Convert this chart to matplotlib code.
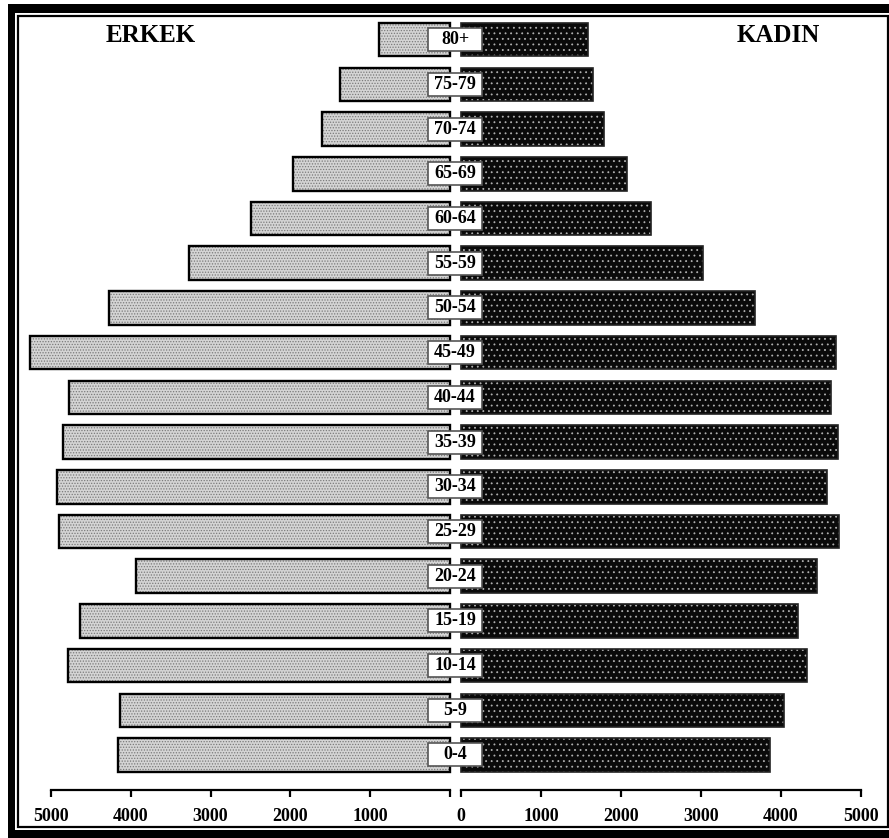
import matplotlib
matplotlib.use("Agg")
import matplotlib.pyplot as plt
from matplotlib.patches import Rectangle
from matplotlib.transforms import blended_transform_factory
import numpy as np

ages = ['0-4', '5-9', '10-14', '15-19', '20-24', '25-29', '30-34', '35-39',
        '40-44', '45-49', '50-54', '55-59', '60-64', '65-69', '70-74', '75-79', '80+']
erkek = [4160, 4140, 4790, 4640, 3930, 4900, 4920, 4850, 4770, 5260,
         4270, 3270, 2500, 1970, 1610, 1380, 890]
kadin = [3860, 4040, 4330, 4210, 4445, 4720, 4580, 4710, 4620, 4685,
         3680, 3030, 2380, 2080, 1785, 1655, 1590]
ticks = [0, 1000, 2000, 3000, 4000, 5000]
left_tick_labels = ['', '1000', '2000', '3000', '4000', '5000']
right_tick_labels = ['0', '1000', '2000', '3000', '4000', '5000']

W, H = 889, 838
plt.rcParams['font.family'] = ['Liberation Serif', 'DejaVu Serif']
plt.rcParams['hatch.linewidth'] = 0.6

fig = plt.figure(figsize=(W / 100, H / 100), dpi=100)
fig.patch.set_facecolor('white')

def fx(px):
    return px / W

def fy(py):
    return 1 - py / H

# double frame
fig.patches.append(Rectangle((fx(8), fy(H + 10)), fx(W + 20 - 8), fy(4) - fy(H + 10),
                             transform=fig.transFigure, facecolor='black', edgecolor='none', zorder=-10))
fig.patches.append(Rectangle((fx(15), fy(830)), fx(W + 20 - 15), fy(13) - fy(830),
                             transform=fig.transFigure, facecolor='white', edgecolor='none', zorder=-9))
fig.patches.append(Rectangle((fx(18), fy(826.5)), fx(887.5 - 18), fy(16) - fy(826.5),
                             transform=fig.transFigure, facecolor='white', edgecolor='black',
                             linewidth=1.6, zorder=-8))

y = np.arange(len(ages))
ybot, ytop = -0.783, 16.44
axb, axt = fy(790), fy(20)
axL = fig.add_axes([fx(51), axb, fx(450) - fx(51), axt - axb])
axR = fig.add_axes([fx(461), axb, fx(861) - fx(461), axt - axb])

bh = 0.75
# left (ERKEK)
axL.barh(y, erkek, height=bh, facecolor='#d4d4d4', edgecolor='#7a7a7a', hatch='......',
         linewidth=0, clip_on=False, zorder=2)
axL.barh(y, erkek, height=bh, fill=False, edgecolor='black', linewidth=1.7, clip_on=False, zorder=3)
# right (KADIN)
axR.barh(y, kadin, height=bh, facecolor='#0a0a0a', edgecolor='#b0b0b0', hatch='...',
         linewidth=0, clip_on=False, zorder=2)
axR.barh(y, kadin, height=bh, fill=False, edgecolor='#222222', linewidth=1.2, clip_on=False, zorder=3)

for ax, labs in ((axL, left_tick_labels), (axR, right_tick_labels)):
    ax.set_ylim(ybot, ytop)
    ax.set_xticks(ticks)
    ax.set_xticklabels(labs, fontsize=13, fontweight='bold')
    ax.set_yticks([])
    for s in ('top', 'left', 'right'):
        ax.spines[s].set_visible(False)
    ax.spines['bottom'].set_linewidth(1.6)
    ax.tick_params(axis='x', direction='out', length=5, width=1.6, pad=8)
    ax.set_facecolor('none')
axL.set_xlim(5000, 0)
axR.set_xlim(0, 5000)

# age labels in white boxes
tr = blended_transform_factory(fig.transFigure, axL.transData)
box_h = 23 / 44.7
for i, lab in enumerate(ages):
    fig.patches.append(Rectangle((fx(428), i - box_h / 2), fx(482) - fx(428), box_h,
                                 transform=tr, facecolor='white', edgecolor='#555555',
                                 linewidth=1.2, zorder=5))
    fig.text(fx(455), i, lab, transform=tr, ha='center', va='center',
             fontsize=13, fontweight='bold', zorder=6)

fig.text(fx(151), fy(35), 'ERKEK', ha='center', va='center', fontsize=18, fontweight='bold')
fig.text(fx(778), fy(35), 'KADIN', ha='center', va='center', fontsize=18, fontweight='bold')

fig.savefig('out.png', dpi=100)
